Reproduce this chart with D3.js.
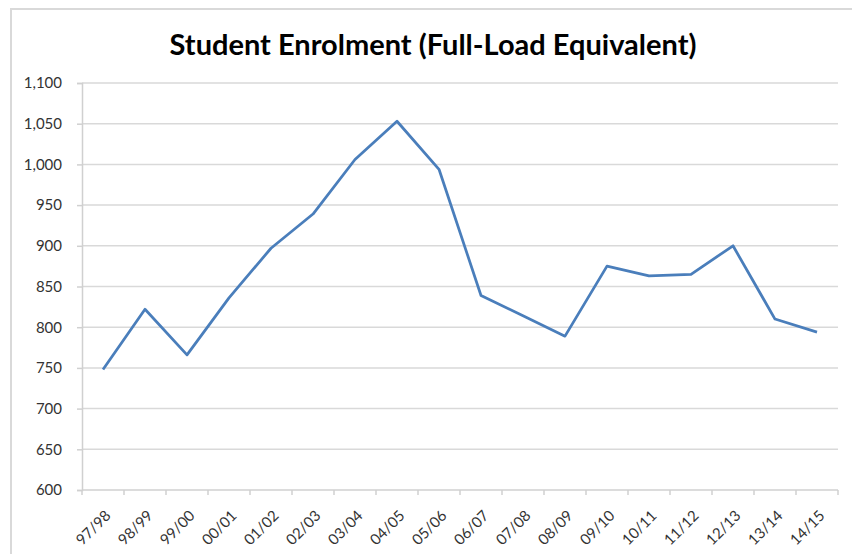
<!DOCTYPE html>
<html>
<head>
<meta charset="utf-8">
<script src="https://cdn.jsdelivr.net/npm/d3@7"></script>
<style>
  body { margin: 0; background: #fff; }
  text { font-family: Lato, "Open Sans", sans-serif; }
</style>
</head>
<body>
<div id="chart"></div>
<script>
var years = ["97/98", "98/99", "99/00", "00/01", "01/02", "02/03", "03/04", "04/05", "05/06",
             "06/07", "07/08", "08/09", "09/10", "10/11", "11/12", "12/13", "13/14", "14/15"];
var enrolment = [748, 822, 766, 836, 897, 939, 1006, 1053, 994,
                 839, 814, 789, 875, 863, 865, 900, 810, 794];
var yTicks = [600, 650, 700, 750, 800, 850, 900, 950, 1000, 1050, 1100];

var width = 852, height = 554;
var plotLeft = 82, plotRight = 838, plotTop = 83, plotBottom = 490;

var svg = d3.select("#chart").append("svg")
    .attr("width", width)
    .attr("height", height);

// outer frame (only top and left edges show)
svg.append("rect")
    .attr("x", 11).attr("y", 9)
    .attr("width", 900).attr("height", 700)
    .style("fill", "none")
    .style("stroke", "#d9d9d9")
    .style("stroke-width", 2);

svg.append("text")
    .attr("x", 433).attr("y", 55)
    .attr("text-anchor", "middle")
    .style("font-size", "29px")
    .style("font-weight", "bold")
    .style("fill", "#000")
    .text("Student Enrolment (Full-Load Equivalent)");

var x = d3.scaleBand().domain(years).range([plotLeft, plotRight]);
var y = d3.scaleLinear().domain([600, 1100]).range([plotBottom, plotTop]);

// gridlines
svg.selectAll(".grid")
    .data(yTicks.slice(1))
    .enter().append("line")
    .attr("class", "grid")
    .attr("x1", plotLeft).attr("x2", plotRight)
    .attr("y1", d => y(d)).attr("y2", d => y(d))
    .style("stroke", "#d9d9d9")
    .style("stroke-width", 1.5);

var yAxis = svg.append("g")
    .attr("transform", `translate(${plotLeft},0)`)
    .call(d3.axisLeft(y).tickValues(yTicks).tickSize(5).tickPadding(15)
        .tickFormat(d3.format(",")));
yAxis.select(".domain").style("stroke", "#d0d0d0").style("stroke-width", 1.5);
yAxis.selectAll(".tick line").style("stroke", "#d0d0d0").style("stroke-width", 1.5);
yAxis.selectAll("text")
    .style("font-size", "15px")
    .style("fill", "#333")
    .style("font-family", "Lato, 'Open Sans', sans-serif");

// x axis: ticks sit on band edges
var xAxis = svg.append("g").attr("transform", `translate(0,${plotBottom})`);
xAxis.append("line")
    .attr("x1", plotLeft).attr("x2", plotRight)
    .style("stroke", "#d0d0d0").style("stroke-width", 1.5);
xAxis.selectAll(".xt")
    .data(years.concat(["end"]))
    .enter().append("line")
    .attr("class", "xt")
    .attr("x1", (d, i) => plotLeft + i * x.bandwidth())
    .attr("x2", (d, i) => plotLeft + i * x.bandwidth())
    .attr("y1", 0).attr("y2", 5)
    .style("stroke", "#d0d0d0").style("stroke-width", 1.5);
xAxis.selectAll(".xl")
    .data(years)
    .enter().append("text")
    .attr("class", "xl")
    .attr("text-anchor", "end")
    .attr("transform", d => `translate(${x(d) + x.bandwidth() / 2 + 5},${23}) rotate(-45)`)
    .attr("dy", "0.35em")
    .style("font-size", "15px")
    .style("fill", "#333")
    .text(d => d);

var line = d3.line()
    .x((d, i) => x(years[i]) + x.bandwidth() / 2)
    .y(d => y(d));

svg.append("path")
    .datum(enrolment)
    .attr("d", line)
    .style("fill", "none")
    .style("stroke", "#4a7ebb")
    .style("stroke-width", 2.75)
    .style("stroke-linejoin", "round");
</script>
</body>
</html>
